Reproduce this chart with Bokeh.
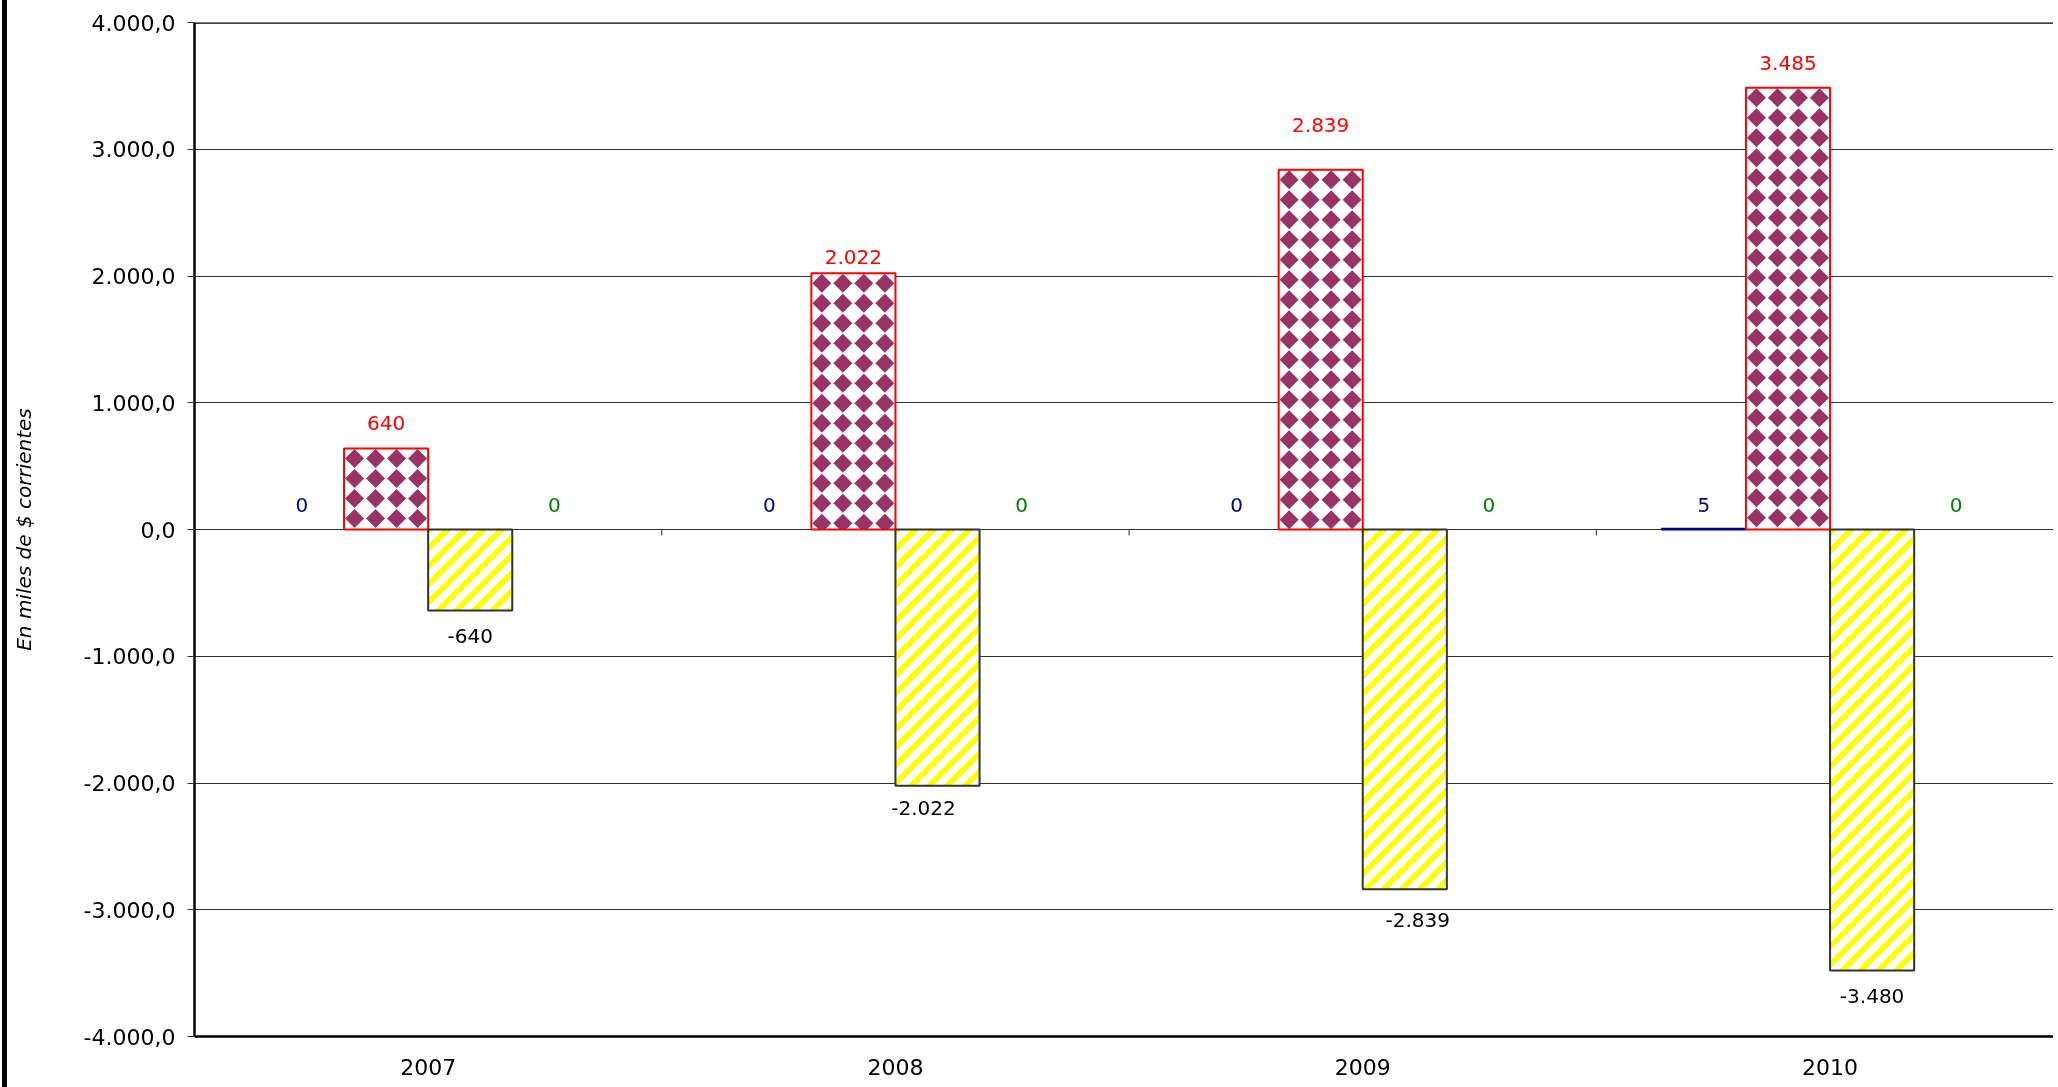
from bokeh.plotting import figure
from bokeh.models import Range1d, FixedTicker, ColumnDataSource, Span, Label
from bokeh.core.properties import value
from bokeh.embed import file_html
from bokeh.resources import INLINE

# ---------------- data ----------------
years = ["2007", "2008", "2009", "2010"]
serie_azul = [0, 0, 0, 5]
serie_roja = [640, 2022, 2839, 3485]
serie_amarilla = [-640, -2022, -2839, -3480]
serie_verde = [0, 0, 0, 0]
y_ticks = [-4000, -3000, -2000, -1000, 0, 1000, 2000, 3000, 4000]
title_text = "Evolución del Resultado"
y_label = "En miles de $ corrientes"

# ---------------- layout (pixels, page coordinates) ----------------
PAGE_X0, PAGE_Y0 = 7, -30        # canvas origin on the page (5px black border to its left)
W, H = 2058 - PAGE_X0, 1087 - PAGE_Y0
FRAME_L, FRAME_T, FRAME_B = 194, 22, 1036
CAT_PX = 467.3
BAR_W = 0.18
OFFS = [-0.27, -0.09, 0.09, 0.27]
red_gap = [25, 16, 45, 25]
yel_gap = [25, 22, 31, 25]
yel_dx = [0, -14, 13, 0]
zero_gap = 25
FONT = value("DejaVu Sans")
DIAM_SX, DIAM_SY, DIAM_R = 21.0, 20.0, 9.5   # diamond pattern
STRIPE_P, STRIPE_B = 18.0, 8.0               # diagonal stripe pattern

YMIN, YMAX = y_ticks[0], y_ticks[-1]
frame_h = FRAME_B - FRAME_T
YPX = frame_h / (YMAX - YMIN)


def to_px(x, y):
    return FRAME_L + x * CAT_PX, FRAME_T + (YMAX - y) * YPX


def from_px(X, Y):
    return (X - FRAME_L) / CAT_PX, YMAX - (Y - FRAME_T) / YPX


def fmt0(v):
    return f"{v:,.0f}".replace(",", ".")


def fmt1(v):
    return f"{v:,.1f}".replace(",", "#").replace(".", ",").replace("#", ".")


def clip_rect(pts, x0, x1, y0, y1):
    def clip(pts, inside, inter):
        out = []
        for i in range(len(pts)):
            cur, prev = pts[i], pts[i - 1]
            if inside(cur):
                if not inside(prev):
                    out.append(inter(prev, cur))
                out.append(cur)
            elif inside(prev):
                out.append(inter(prev, cur))
        return out

    def ix(xc):
        return lambda a, b: (xc, a[1] + (b[1] - a[1]) * (xc - a[0]) / (b[0] - a[0]))

    def iy(yc):
        return lambda a, b: (a[0] + (b[0] - a[0]) * (yc - a[1]) / (b[1] - a[1]), yc)

    steps = [(lambda p: p[0] >= x0, ix(x0)), (lambda p: p[0] <= x1, ix(x1)),
             (lambda p: p[1] >= y0, iy(y0)), (lambda p: p[1] <= y1, iy(y1))]
    for inside, inter in steps:
        if not pts:
            break
        pts = clip(pts, inside, inter)
    return pts


def add_poly(store, pts):
    if len(pts) >= 3:
        xs, ys = zip(*[from_px(X, Y) for X, Y in pts])
        store["xs"].append(list(xs))
        store["ys"].append(list(ys))


n = len(years)
centers = [i + 0.5 for i in range(n)]

p = figure(width=W, height=H,
           x_range=Range1d(0, (2058 - FRAME_L) / CAT_PX),
           y_range=Range1d(YMIN, YMAX),
           output_backend="svg", toolbar_location=None,
           min_border_left=FRAME_L - PAGE_X0, min_border_right=0,
           min_border_top=FRAME_T - PAGE_Y0,
           min_border_bottom=H - (FRAME_B - PAGE_Y0),
           styles={"position": "fixed", "left": f"{PAGE_X0 - 5}px", "top": f"{PAGE_Y0}px",
                   "border-left": "5px solid black"})
p.outline_line_color = None
p.background_fill_color = "white"
p.border_fill_color = "white"

# grid
p.xgrid.grid_line_color = None
p.ygrid.ticker = FixedTicker(ticks=y_ticks)
p.ygrid.grid_line_color = "#333333"
p.ygrid.grid_line_width = 1

# y axis
p.yaxis.ticker = FixedTicker(ticks=y_ticks)
p.yaxis.major_label_overrides = {t: fmt1(t) for t in y_ticks}
p.yaxis.axis_line_color = "black"
p.yaxis.axis_line_width = 2.5
p.yaxis.major_tick_out = 7
p.yaxis.major_tick_in = 0
p.yaxis.major_tick_line_color = "#333333"
p.yaxis.minor_tick_line_color = None
p.yaxis.major_label_standoff = 12
p.yaxis.major_label_text_font = "DejaVu Sans"
p.yaxis.major_label_text_font_size = "22px"
p.yaxis.major_label_text_color = "black"
p.yaxis.axis_label = y_label
p.yaxis.axis_label_text_font = "DejaVu Sans"
p.yaxis.axis_label_text_font_style = "italic"
p.yaxis.axis_label_text_font_size = "20px"
p.yaxis.axis_label_text_color = "black"
p.yaxis.axis_label_standoff = 45

# x axis
p.xaxis.ticker = FixedTicker(ticks=centers)
p.xaxis.major_label_overrides = {c: y for c, y in zip(centers, years)}
p.xaxis.axis_line_color = "black"
p.xaxis.axis_line_width = 2.5
p.xaxis.major_tick_out = 0
p.xaxis.major_tick_in = 0
p.xaxis.minor_tick_line_color = None
p.xaxis.major_label_standoff = 22
p.xaxis.major_label_text_font = "DejaVu Sans"
p.xaxis.major_label_text_font_size = "22px"
p.xaxis.major_label_text_color = "black"

# top border of the plot area
p.add_layout(Span(location=YMAX, dimension="width", line_color="black", line_width=2.5))

# category ticks on the zero line
bounds = list(range(1, n))
tick_len = 6 / YPX
p.segment(x0=bounds, y0=[0] * len(bounds), x1=bounds, y1=[-tick_len] * len(bounds),
          line_color="#333333", line_width=1)

# ---------------- bars ----------------
x_azul = [c + OFFS[0] for c in centers]
x_roja = [c + OFFS[1] for c in centers]
x_am = [c + OFFS[2] for c in centers]
x_verde = [c + OFFS[3] for c in centers]

src_azul = ColumnDataSource(dict(x=x_azul, top=serie_azul,
                                 la=[1 if v else 0 for v in serie_azul]))
p.vbar(x="x", top="top", bottom=0, width=BAR_W, source=src_azul,
       fill_color="#000080", line_color="#000080", line_width=2, line_alpha="la")

src_roja = ColumnDataSource(dict(x=x_roja, top=serie_roja))
src_am = ColumnDataSource(dict(x=x_am, top=serie_amarilla))
p.vbar(x="x", top="top", bottom=0, width=BAR_W, source=src_roja,
       fill_color="white", line_color=None)
p.vbar(x="x", top="top", bottom=0, width=BAR_W, source=src_am,
       fill_color="white", line_color=None)

# diamond pattern inside the red bars
diam = {"xs": [], "ys": []}
for xc, v in zip(x_roja, serie_roja):
    X0, Y0 = to_px(xc - BAR_W / 2, v)
    X1, Y1 = to_px(xc + BAR_W / 2, 0)
    cx = X0 + DIAM_SX / 2
    while cx - DIAM_R < X1:
        cy = Y0 + DIAM_SY / 2
        while cy - DIAM_R < Y1:
            poly = [(cx, cy - DIAM_R), (cx + DIAM_R, cy), (cx, cy + DIAM_R), (cx - DIAM_R, cy)]
            add_poly(diam, clip_rect(poly, X0, X1, Y0, Y1))
            cy += DIAM_SY
        cx += DIAM_SX
p.patches(xs="xs", ys="ys", source=ColumnDataSource(diam),
          fill_color="#993366", line_color=None)

# diagonal stripes inside the yellow bars
stripes = {"xs": [], "ys": []}
for xc, v in zip(x_am, serie_amarilla):
    X0, Y0 = to_px(xc - BAR_W / 2, 0)
    X1, Y1 = to_px(xc + BAR_W / 2, v)
    k = int((X0 + Y0) // STRIPE_P) - 1
    while k * STRIPE_P <= X1 + Y1:
        c1, c2 = k * STRIPE_P, k * STRIPE_P + STRIPE_B
        poly = [(c1 - Y0, Y0), (c2 - Y0, Y0), (c2 - Y1, Y1), (c1 - Y1, Y1)]
        add_poly(stripes, clip_rect(poly, X0, X1, Y0, Y1))
        k += 1
p.patches(xs="xs", ys="ys", source=ColumnDataSource(stripes),
          fill_color="#FFFF00", line_color=None)

# bar outlines on top of the patterns
p.vbar(x="x", top="top", bottom=0, width=BAR_W, source=src_roja,
       fill_color=None, line_color="#FF0000", line_width=2)
p.vbar(x="x", top="top", bottom=0, width=BAR_W, source=src_am,
       fill_color=None, line_color="#333333", line_width=2)

src_verde = ColumnDataSource(dict(x=x_verde, top=serie_verde))
p.vbar(x="x", top="top", bottom=0, width=BAR_W, source=src_verde,
       fill_color="#008000", line_color=None)


# ---------------- data labels ----------------
def labels(xs, ys, texts, dx, dy, color):
    p.text(x=xs, y=ys, text=texts, x_offset=dx, y_offset=dy,
           text_color=color, text_font=FONT, text_font_size="20px",
           text_align="center", text_baseline="middle")


labels(x_azul, [0] * n, [fmt0(v) for v in serie_azul],
       [0] * n, [-zero_gap] * n, "#000080")
labels(x_roja, serie_roja, [fmt0(v) for v in serie_roja],
       [0] * n, [-g for g in red_gap], "#FF0000")
labels(x_am, serie_amarilla, [fmt0(v) for v in serie_amarilla],
       yel_dx, yel_gap, "black")
labels(x_verde, [0] * n, [fmt0(v) for v in serie_verde],
       [0] * n, [-zero_gap] * n, "#008000")

# title (partly above the visible page, as in the original)
tx, ty = from_px(1049, 4)
p.add_layout(Label(x=tx, y=ty, text=title_text, text_align="center",
                   text_baseline="alphabetic", text_font="DejaVu Sans",
                   text_font_style="bold italic", text_font_size="27px",
                   text_color="black"))

open("out.html", "w").write(file_html(p, INLINE))
